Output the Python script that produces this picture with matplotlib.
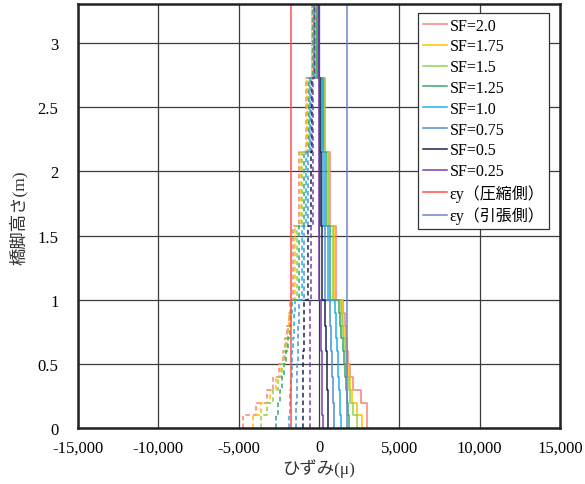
#coding=utf-8
import numpy as np
import matplotlib
matplotlib.use('Agg')
from matplotlib import pyplot as plt
from matplotlib.ticker import FuncFormatter, MultipleLocator

plt.rcParams['font.family'] = ['Liberation Serif', 'Noto Sans CJK JP']

# 橋脚高さの区間 (m)
高さ = [0, 0.1, 0.2, 0.3, 0.4, 0.5, 0.6, 0.7, 0.8, 0.9, 1.0, 1.575, 2.15, 2.725, 3.3]

SF   = ['2.0', '1.75', '1.5', '1.25', '1.0', '0.75', '0.5', '0.25']
色   = ['#f4837d', '#ffc000', '#92d050', '#3aa868', '#1fb0ec', '#4f8fcf', '#1c2650', '#7a3fb0']

# 引張側ひずみ (μ)  下の区間から順に
引張 = [
    [2960, 2960, 2590, 2090, 1930, 1830, 1740, 1670, 1590, 1520, 1060, 680, 370, -170],
    [2650, 2340, 2040, 1930, 1830, 1740, 1660, 1580, 1510, 1430,  950, 620, 330, -150],
    [2380, 2090, 1930, 1850, 1770, 1680, 1600, 1520, 1430, 1350,  850, 540, 290, -130],
    [1880, 1830, 1770, 1700, 1620, 1550, 1470, 1400, 1330, 1270,  680, 430, 230, -110],
    [1370, 1330, 1290, 1250, 1200, 1160, 1120, 1080, 1040, 1000,  540, 330, 160,  -90],
    [ 940,  910,  880,  850,  820,  790,  760,  740,  700,  680,  370, 210, 100,  -60],
    [ 580,  560,  540,  520,  500,  480,  440,  420,  390,  370,  160, 100,  40,  -30],
    [ 220,  210,  200,  190,  170,  160,  150,  140,  130,  120,   20,   0,   0,    0],
]

# 圧縮側ひずみ (μ)
圧縮 = [
    [-4740, -3920, -3220, -2840, -2470, -2260, -2110, -2010, -1880, -1800, -1600, -1230, -810, -460],
    [-4100, -3580, -3060, -2700, -2380, -2180, -2050, -1950, -1840, -1760, -1500, -1150, -760, -430],
    [-3610, -3220, -2850, -2540, -2280, -2100, -1990, -1900, -1800, -1720, -1400, -1060, -710, -400],
    [-2680, -2540, -2420, -2280, -2160, -2030, -1920, -1810, -1730, -1660, -1230,  -940, -650, -370],
    [-1870, -1830, -1790, -1750, -1710, -1670, -1620, -1580, -1550, -1520, -1080,  -810, -570, -340],
    [-1430, -1410, -1390, -1370, -1340, -1320, -1300, -1280, -1260, -1240,  -920,  -670, -500, -300],
    [-1020, -1010, -1000,  -990,  -980,  -970,  -960,  -950,  -940,  -940,  -710,  -520, -430, -270],
    [ -580,  -580,  -575,  -575,  -570,  -570,  -570,  -565,  -565,  -560,  -500,  -400, -360, -250],
]

εy圧縮 = -1750
εy引張 = 1750


def 階段(値):
    # 区間ごとの値を縦方向の階段線にする
    y = np.repeat(高さ, 2)[1:-1]
    x = np.repeat(値, 2)
    return x, y


def 描く(ax):
    for i in range(len(SF)):
        x, y = 階段(圧縮[i])
        ax.plot(x, y, color=色[i], lw=1.1, ls=(0, (3, 2)))
    for i in range(len(SF)):
        x, y = 階段(引張[i])
        ax.plot(x, y, color=色[i], lw=1.1, label='SF=' + SF[i])

    ax.axvline(εy圧縮, color='#ff5050', lw=1.1, label='εy（圧縮側）')
    ax.axvline(εy引張, color='#6f86c6', lw=1.1, label='εy（引張側）')


def 軸(ax):
    ax.set_xlim(-15000, 15000)
    ax.set_ylim(0, 3.3)
    ax.xaxis.set_major_locator(MultipleLocator(5000))
    ax.yaxis.set_major_locator(MultipleLocator(0.5))
    ax.xaxis.set_major_formatter(FuncFormatter(lambda v, p: '{:,.0f}'.format(v)))
    ax.yaxis.set_major_formatter(FuncFormatter(lambda v, p: '{:g}'.format(v)))
    ax.tick_params(length=0, labelsize=12)
    ax.tick_params(axis='x', pad=8)
    ax.tick_params(axis='y', pad=14)
    ax.grid(True, color='#3a3a3a', lw=0.9)
    ax.set_axisbelow(True)
    for s in ax.spines.values():
        s.set_linewidth(1.8)
        s.set_color('#222222')

    ax.set_xlabel('ひずみ(μ)', fontsize=12.5, labelpad=2, color='#333333')
    ax.set_ylabel('橋脚高さ(m)', fontsize=12.5, color='#333333')
    ax.yaxis.set_label_coords(-0.103, 0.5)

    lg = ax.legend(loc='upper right', bbox_to_anchor=(0.978, 0.98),
                   fontsize=11.5, handlelength=1.5, handletextpad=0.2,
                   labelspacing=0.3, borderpad=0.3, borderaxespad=0,
                   fancybox=False, framealpha=1, edgecolor='#333333')
    lg.get_frame().set_linewidth(0.9)


def main():
    fig = plt.figure(figsize=(5.85, 4.85), dpi=100)
    ax = fig.add_axes([0.1333, 0.1148, 0.824, 0.874])
    描く(ax)
    軸(ax)
    fig.savefig('out.png', dpi=100)


if __name__ == '__main__':
    main()
